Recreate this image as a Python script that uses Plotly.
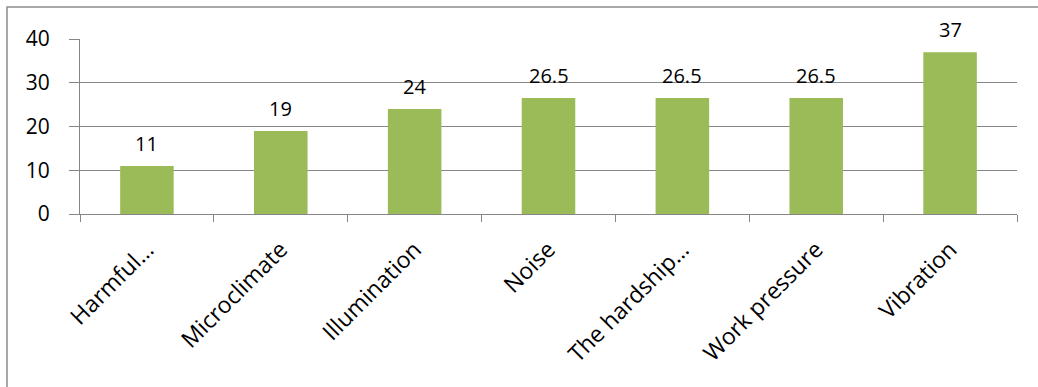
import plotly.graph_objects as go

categories = ["Harmful…", "Microclimate", "Illumination", "Noise", "The hardship…", "Work pressure", "Vibration"]
values = [11, 19, 24, 26.5, 26.5, 26.5, 37]
value_labels = ["11", "19", "24", "26.5", "26.5", "26.5", "37"]
y_ticks = [0, 10, 20, 30, 40]

W, H = 1038, 387
L, R, T, B = 80, 1017, 39, 214
FONT = "Open Sans, sans-serif"

fig = go.Figure()
fig.add_trace(go.Bar(
    x=categories, y=values, width=0.4,
    marker=dict(color="#9BBB59", line=dict(width=0)),
    hoverinfo="x+y",
))

for c, v, t in zip(categories, values, value_labels):
    fig.add_annotation(x=c, y=v, text=t, showarrow=False, yanchor="bottom",
                       yshift=7, font=dict(family=FONT, size=20, color="#000"))

pw, ph = R - L, B - T
def px_x(p):
    return (p - L) / pw
def px_y(p):
    return (B - p) / ph

fig.add_shape(type="rect", xref="paper", yref="paper",
              x0=px_x(7), x1=px_x(1060), y0=px_y(410), y1=px_y(7),
              line=dict(color="#8c8c8c", width=1.5), fillcolor="rgba(0,0,0,0)",
              layer="below")

fig.update_layout(
    width=W, height=H,
    margin=dict(l=L, r=W - R, t=T, b=H - B, autoexpand=False),
    paper_bgcolor="white", plot_bgcolor="white",
    showlegend=False,
    font=dict(family=FONT, size=20, color="#000"),
    bargap=0.6,
)
fig.update_xaxes(
    automargin=False, tickangle=-45, showgrid=False,
    showline=True, linecolor="#868686", linewidth=1,
    ticks="outside", ticklen=7, tickcolor="#868686", tickson="boundaries",
    ticklabelstandoff=12,
    tickfont=dict(family=FONT, size=23, color="#000"),
)
fig.update_yaxes(
    automargin=False, range=[0, 40], tickvals=y_ticks,
    showgrid=True, gridcolor="#868686", gridwidth=1,
    showline=True, linecolor="#868686", linewidth=1,
    ticks="outside", ticklen=10, tickcolor="#868686",
    ticklabelstandoff=15, zeroline=False,
    tickfont=dict(family=FONT, size=21, color="#000"),
)

fig.write_html("out.html")
